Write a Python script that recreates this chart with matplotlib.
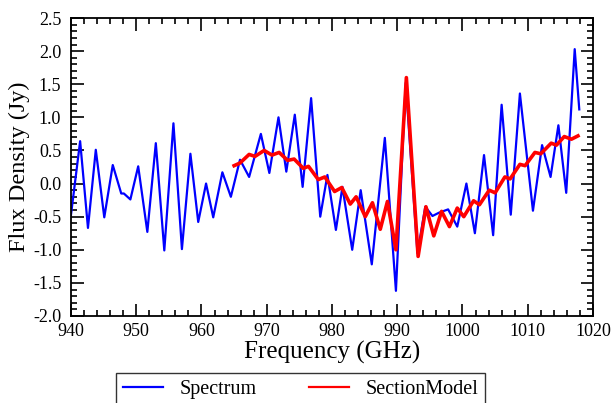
import matplotlib
matplotlib.use('Agg')
import matplotlib.pyplot as plt
from matplotlib.ticker import MultipleLocator

# Spectrum (blue), extrema mostly
spec_freq = [940.0, 941.4, 942.6, 943.8, 945.1, 946.4, 947.7, 948.1, 949.1, 950.3,
             951.7, 953.0, 954.3, 955.7, 957.0, 958.3, 959.5, 960.7, 961.8, 963.2,
             964.5, 965.9, 967.3, 969.1, 970.4, 971.8, 973.0, 974.3, 975.5, 976.8,
             978.2, 979.3, 980.6, 981.6, 983.1, 984.4, 986.1, 988.1, 989.8, 991.3,
             993.1, 994.3, 995.4, 996.4, 997.8, 999.2, 1000.6, 1001.9, 1003.3, 1004.7,
             1006.0, 1007.4, 1008.8, 1010.8, 1012.2, 1013.5, 1014.7, 1015.9, 1017.2, 1017.9]
spec_flux = [-0.47, 0.64, -0.67, 0.51, -0.51, 0.28, -0.15, -0.15, -0.24, 0.26,
             -0.73, 0.61, -1.01, 0.91, -0.99, 0.45, -0.58, 0.00, -0.51, 0.17,
             -0.20, 0.36, 0.10, 0.75, 0.16, 1.00, 0.18, 1.04, -0.05, 1.29,
             -0.50, 0.13, -0.70, -0.05, -1.00, -0.10, -1.22, 0.69, -1.62, 1.52,
             -1.05, -0.35, -0.49, -0.44, -0.39, -0.65, 0.00, -0.75, 0.43, -0.78,
             1.19, -0.47, 1.36, -0.41, 0.58, 0.10, 0.88, -0.14, 2.03, 1.12]

# SectionModel (red)
model_freq = [965.0, 965.9, 967.3, 968.2, 969.6, 970.8, 971.9, 973.2, 974.2, 975.6,
              976.4, 977.9, 978.9, 980.4, 981.5, 982.8, 983.7, 985.1, 986.2, 987.4,
              988.5, 989.8, 991.4, 993.2, 994.4, 995.6, 996.8, 998.0, 999.2, 1000.2,
              1001.7, 1002.6, 1004.1, 1005.0, 1006.5, 1007.3, 1008.8, 1009.6, 1011.1, 1012.0,
              1013.6, 1014.4, 1015.6, 1016.7, 1017.7]
model_flux = [0.27, 0.31, 0.44, 0.41, 0.50, 0.43, 0.47, 0.35, 0.37, 0.23,
              0.26, 0.06, 0.10, -0.12, -0.06, -0.31, -0.20, -0.50, -0.29, -0.69,
              -0.27, -1.00, 1.60, -1.10, -0.35, -0.79, -0.42, -0.65, -0.37, -0.50,
              -0.26, -0.32, -0.10, -0.14, 0.10, 0.07, 0.29, 0.27, 0.47, 0.45,
              0.61, 0.58, 0.71, 0.67, 0.72]

plt.rcParams['font.family'] = ['Liberation Serif', 'DejaVu Serif']
plt.rcParams['mathtext.fontset'] = 'stix'

fig = plt.figure(figsize=(6.11, 4.03), dpi=100)
ax = fig.add_axes([0.1162, 0.2159, 0.8543, 0.7394])

ax.plot(spec_freq, spec_flux, color='#0000ff', lw=1.6, label='Spectrum',
        solid_joinstyle='round')
ax.plot(model_freq, model_flux, color='#ff0000', lw=2.6, label='SectionModel',
        solid_joinstyle='round')

ax.set_xlim(940, 1020)
ax.set_ylim(-2.0, 2.5)
ax.xaxis.set_major_locator(MultipleLocator(10))
ax.xaxis.set_minor_locator(MultipleLocator(2))
ax.yaxis.set_major_locator(MultipleLocator(0.5))
ax.yaxis.set_minor_locator(MultipleLocator(0.1))
ax.yaxis.set_major_formatter(plt.FormatStrFormatter('%.1f'))
ax.tick_params(which='both', direction='in', top=True, right=True, labelsize=13, width=1.2)
ax.tick_params(which='major', length=9)
ax.tick_params(axis='y', which='major', pad=7)
ax.tick_params(axis='x', which='major', pad=5)
ax.tick_params(which='minor', length=4.5)
for s in ax.spines.values():
    s.set_linewidth(1.3)

ax.set_xlabel('Frequency (GHz)', fontsize=18, labelpad=1)
ax.set_ylabel('Flux Density (Jy)', fontsize=17.5, labelpad=2)

leg = fig.legend(loc='upper center', bbox_to_anchor=(0.492, 0.075), ncol=2, fontsize=14.5,
                 frameon=True, fancybox=False, edgecolor='black', columnspacing=2.6,
                 handlelength=2.0, borderpad=0.35, borderaxespad=0)
leg.get_frame().set_linewidth(1.0)
for line in leg.get_lines():
    line.set_linewidth(1.6)

fig.savefig('out.png', dpi=100)
